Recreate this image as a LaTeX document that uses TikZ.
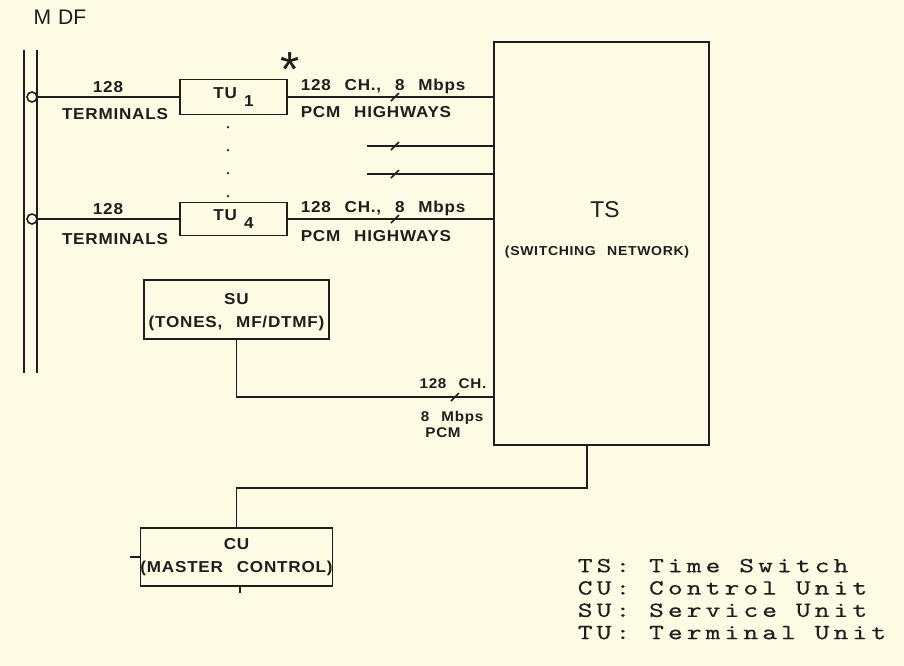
\documentclass[tikz,border=0pt]{standalone}
\usepackage{fontspec}
\usepackage{xcolor}
\usepackage{tikz}
\usetikzlibrary{positioning}
\newfontfamily\plotfont[FakeStretch=1.08,LetterSpace=5,WordSpace=2.5]{Liberation Sans}
\newfontfamily\handfont{Liberation Sans}
\newfontfamily\legendfont[FakeStretch=1.3,LetterSpace=19,FakeBold=0.3]{lmmono10-regular.otf}
\definecolor{paper}{HTML}{FDFBE3}
\definecolor{ink}{HTML}{1E1E1E}

\begin{document}
\begin{tikzpicture}[
  x=0.2mm, y=-0.2mm,
  color=ink, line width=0.9pt,
  unit/.style={draw, rectangle, inner sep=0pt, align=center,
    font=\plotfont\bfseries\fontsize{9}{13}\selectfont},
  lbl/.style={inner sep=0pt, font=\plotfont\bfseries\fontsize{9}{13}\selectfont},
  small/.style={inner sep=0pt, font=\plotfont\bfseries\fontsize{8}{10}\selectfont},
  jack/.style={circle, draw, fill=paper, inner sep=0pt, minimum size=2mm}
]
\useasboundingbox (0,0) rectangle (904,666);
\fill[paper] (0,0) rectangle (904,666);
\node[inner sep=0pt, font=\handfont\fontsize{12}{12}\selectfont] (mdf) at (60,17) {M\,\,DF};
\draw (24,50) -- (24,373);
\draw (37,50) -- (37,373);
\node[jack] (j1) at (32,97) {};
\node[jack] (j4) at (32,219) {};
\node[unit, minimum width=21.4mm, minimum height=7mm] (tu1) at (233.5,97) {TU\hspace{4pt}\raisebox{-5pt}{1}};
\node[unit, minimum width=21.4mm, minimum height=6.6mm] (tu4) at (233.5,219) {TU\hspace{4pt}\raisebox{-5pt}{4}};
\node[draw, minimum width=43mm, minimum height=80.6mm] (ts) at (601.5,243.5) {};
\node[unit, minimum width=37mm, minimum height=11.8mm] (su) at (236.5,309.5) {\rule{0pt}{9pt}SU\\(TONES, MF/DTMF)};
\node[unit, minimum width=37.4mm, minimum height=11.6mm] (cu) at (236.5,557) {CU\\(MASTER CONTROL)};
\node[inner sep=0pt, font=\handfont\fontsize{13}{13}\selectfont] (tsname) at (605,210) {TS};
\node[inner sep=0pt, font=\plotfont\bfseries\fontsize{7.4}{9}\selectfont] (tsdesc) at (597,252) {(SWITCHING NETWORK)};
\node[lbl] (n1) at (108,87) {128};
\node[lbl] (t1) at (115,114) {TERMINALS};
\node[lbl] (n4) at (108,209) {128};
\node[lbl] (t4) at (115,239) {TERMINALS};
\node[lbl, anchor=west] (h1) at (300,86) {128 CH., 8 Mbps};
\node[lbl, anchor=west] (p1) at (300,112) {PCM HIGHWAYS};
\node[lbl, anchor=west] (h4) at (300,208) {128 CH., 8 Mbps};
\node[lbl, anchor=west] (p4) at (300,236) {PCM HIGHWAYS};
\node[inner sep=0pt, font=\handfont\fontsize{28}{28}\selectfont] (ast) at (290,70) {*};
\foreach \y in {127,150,173,196} \fill (228,\y) circle (0.25mm);
\coordinate (sp1) at (367,146);
\coordinate (sp2) at (367,174);
\draw (j1) -- (tu1);
\draw (j4) -- (tu4);
\draw (tu1) -- (tu1 -| ts.west);
\draw (tu4) -- (tu4 -| ts.west);
\draw (sp1) -- (sp1 -| ts.west);
\draw (sp2) -- (sp2 -| ts.west);
\foreach \y in {97,146,174,219} \draw (391,\y+4) -- (399,\y-4);
\coordinate (suin) at (493,397);
\draw (su.south) |- (ts.west |- suin);
\draw (451,401) -- (459,393);
\node[small] (c3) at (453,384) {128 CH.};
\node[small] (r3) at (452,418) {8 Mbps};
\node[small] (pc3) at (443,433) {PCM};
\coordinate (tsout) at (587,488);
\draw (ts.south -| tsout) -- (tsout) -| (cu.north);
\draw (cu.west) -- ++(-10,0);
\draw ([xshift=0.7mm]cu.south) -- ++(0,6);
\node[anchor=north west, inner sep=0pt, align=left,
  font=\legendfont\fontsize{12.3}{12.7}\selectfont] (legend) at (577,558)
  {TS: Time Switch\\CU: Control Unit\\SU: Service Unit\\TU: Terminal Unit};
\end{tikzpicture}
\end{document}
